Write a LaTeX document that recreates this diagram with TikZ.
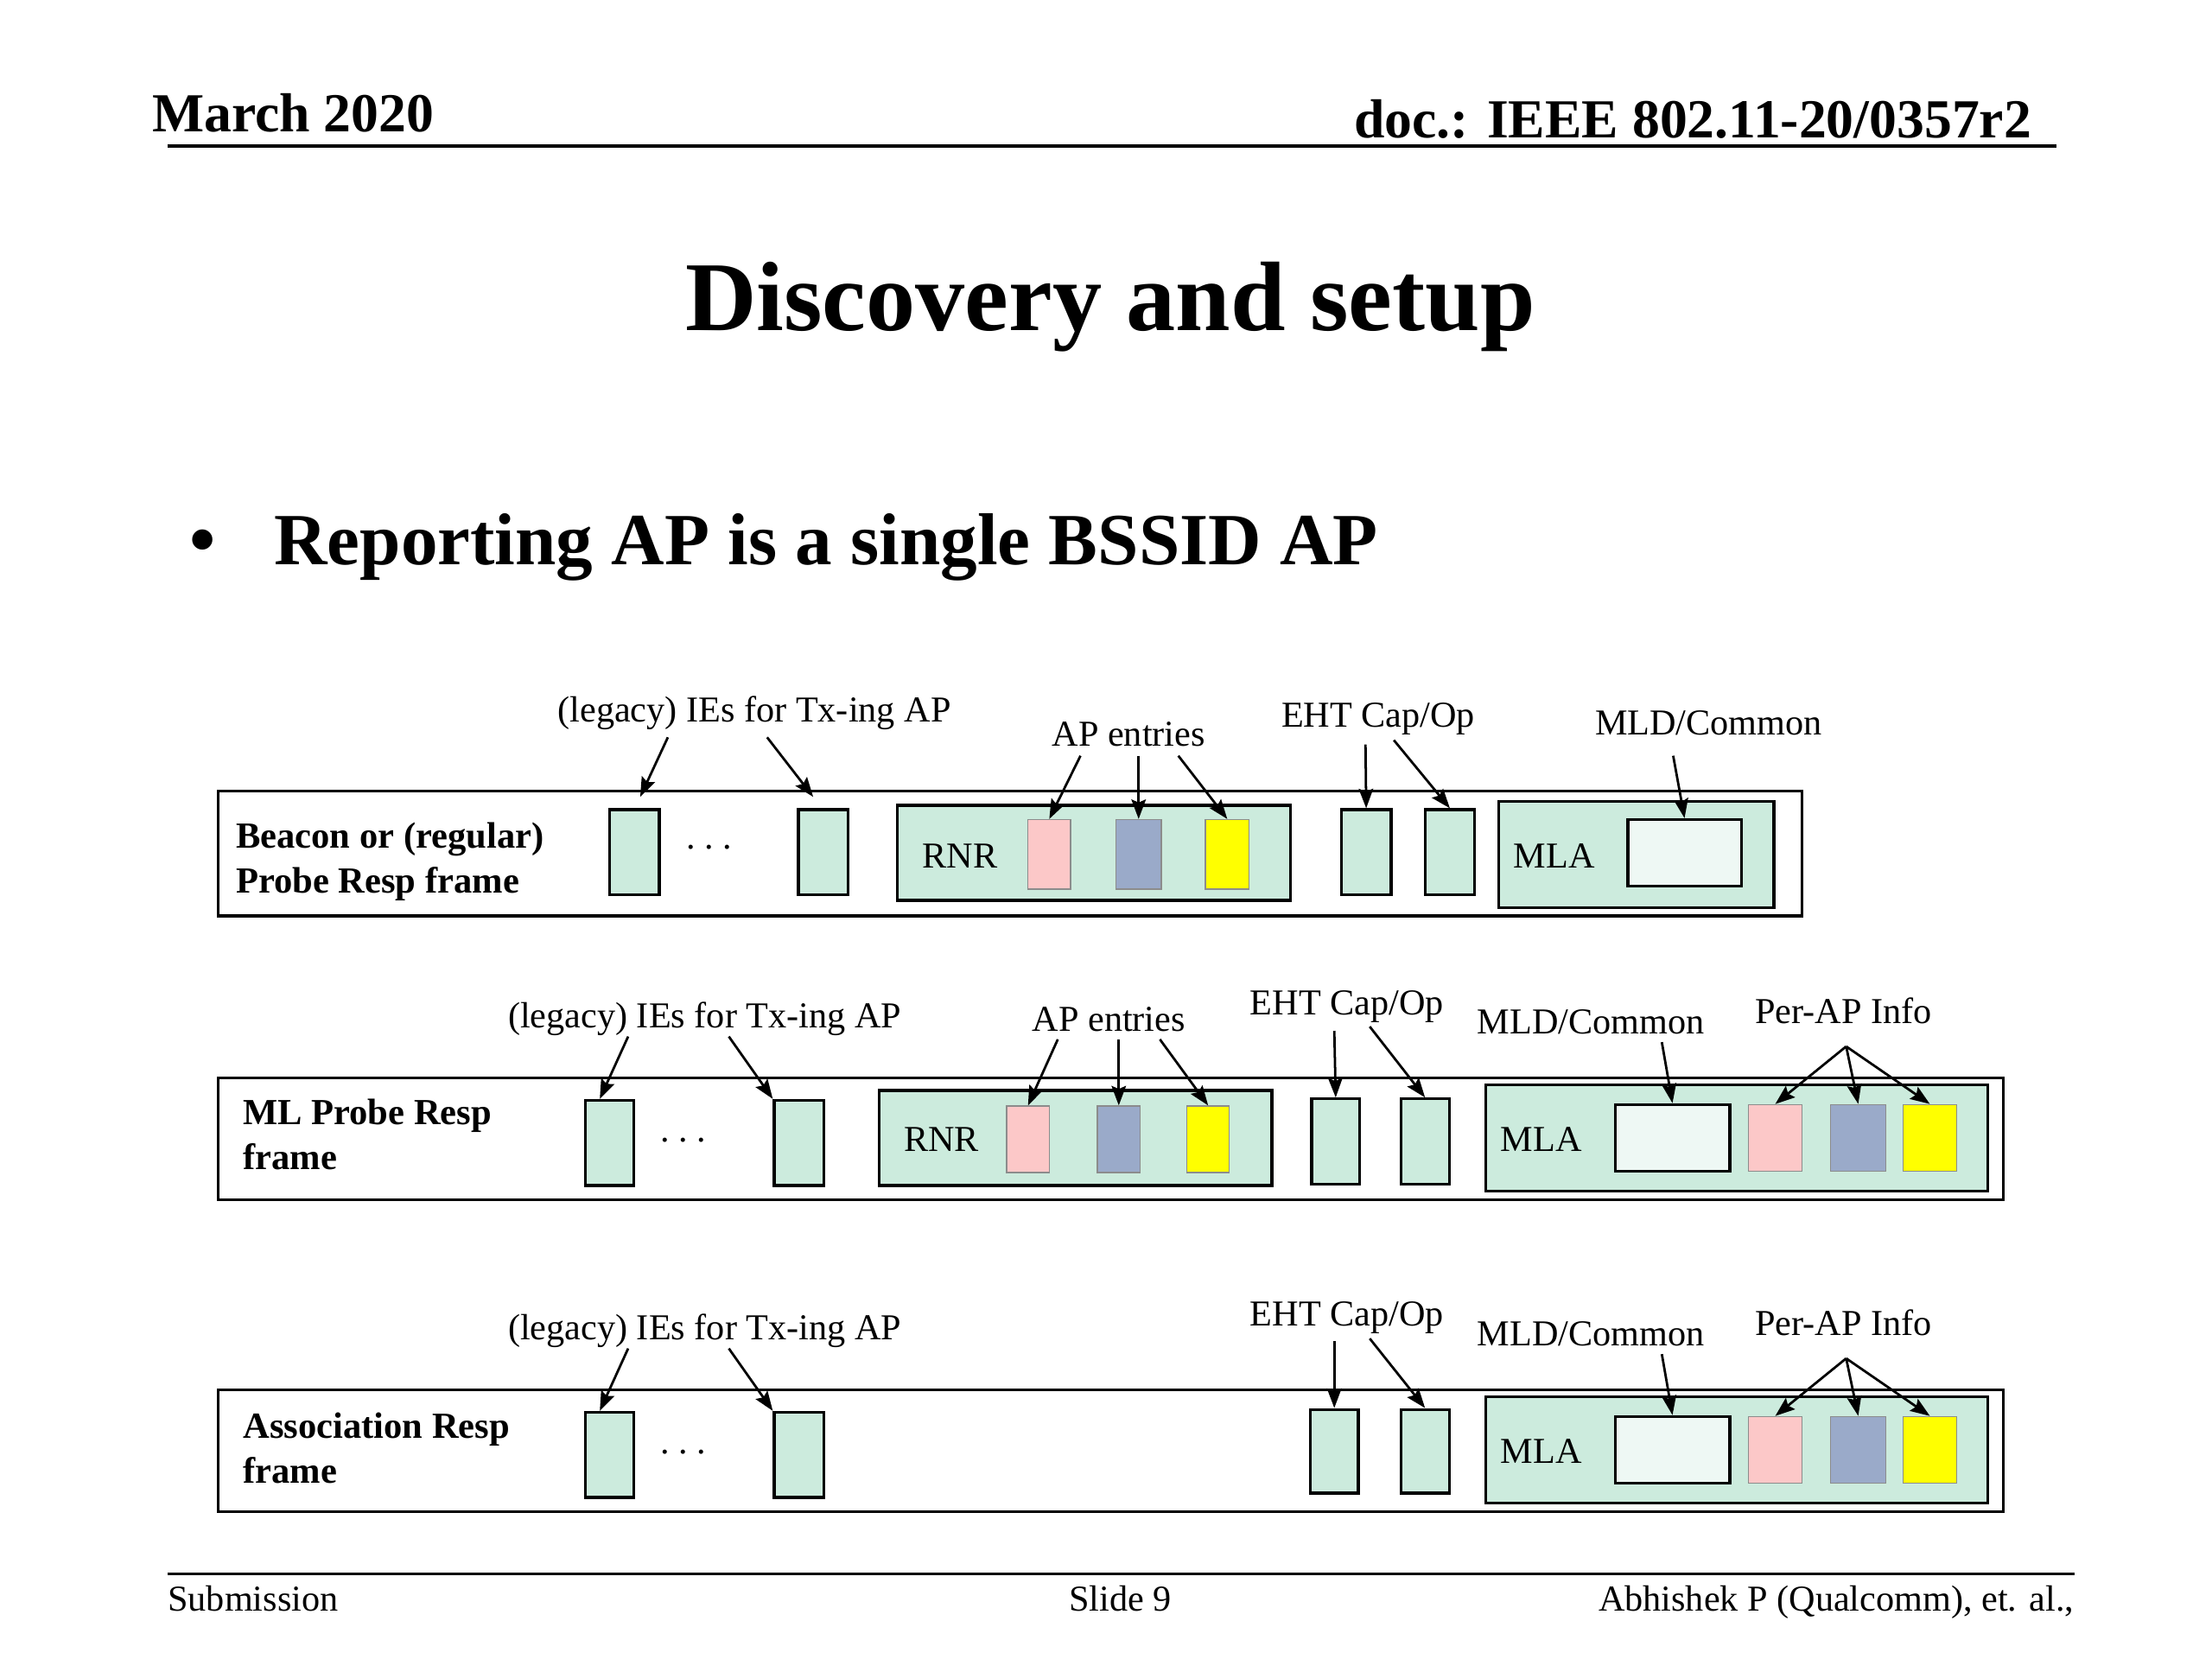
\documentclass[tikz,border=0pt]{standalone}
\usepackage{fontspec}
\setmainfont{Liberation Serif}
\usetikzlibrary{arrows.meta, positioning, calc, fit}
\definecolor{mint}{HTML}{CCEBDD}
\definecolor{pale}{HTML}{EEF8F4}
\definecolor{pinkbox}{HTML}{FCC8C8}
\definecolor{bluebox}{HTML}{9AAAC9}
\definecolor{yellowbox}{HTML}{FFFF00}

\begin{document}
\begin{tikzpicture}[x=0.016667cm, y=-0.016667cm, >={Stealth[length=6.5pt,width=4.8pt,inset=1pt]},
    framebox/.style={draw, line width=0.95pt, inner sep=0pt, fill=white},
    ie/.style={draw, line width=0.95pt, inner sep=0pt, fill=mint},
    entry/.style={draw=black!45, line width=0.4pt, inner sep=0pt},
    txt/.style={inner sep=0pt, font=\fontsize{12.2}{14}\selectfont},
    rowtxt/.style={inner sep=0pt, font=\fontsize{12.3}{14}\selectfont\bfseries, anchor=base west},
    lbl/.style={txt, anchor=base},
    link/.style={->, line width=0.8pt}]
    \path[use as bounding box, fill=white] (0,0) rectangle (1560,1170);

    \node (date) [inner sep=0pt, anchor=base west, font=\fontsize{18.4}{22}\selectfont\bfseries] at (107,93) {March 2020};
    \node (doc) [inner sep=0pt, anchor=base east, font=\fontsize{18.4}{22}\selectfont\bfseries] at (1433,97) {doc.: IEEE 802.11-20/0357r2};
    \coordinate (topl) at (118,103);
    \coordinate (topr) at (1450,103);
    \draw[line width=1pt] (topl) -- (topr);

    \node (title) [inner sep=0pt, anchor=base, font=\fontsize{33}{38}\selectfont\bfseries] at (783,233) {Discovery and setup};
    \node (dot) [inner sep=0pt, anchor=base, font=\fontsize{25}{30}\selectfont\bfseries] at (143,398) {\textbullet};
    \node (point) [inner sep=0pt, anchor=base west, font=\fontsize{24.6}{30}\selectfont\bfseries] at (193,398) {Reporting AP is a single BSSID AP};

    % Beacon / Probe Resp
    \node (f1) [framebox, fit={(154,558) (1271,646)}] {};
    \node (t1a) [rowtxt] at (166,598) {Beacon or (regular)};
    \node (t1b) [rowtxt] at (166,630) {Probe Resp frame};
    \node (r1a) [ie, fit={(430,571) (465,631)}] {};
    \node (r1b) [ie, fit={(563,571) (598,631)}] {};
    \node (d1) [lbl] at (500,599) {.\hspace{3pt}.\hspace{3pt}.};
    \node (rnr1) [ie, fit={(633,568) (910,635)}] {};
    \node (rnr1t) [lbl] at (677,612) {RNR};
    \node (p1) [entry, fill=pinkbox, fit={(725,578) (755,627)}] {};
    \node (b1) [entry, fill=bluebox, fit={(787,578) (819,627)}] {};
    \node (y1) [entry, fill=yellowbox, fit={(850,578) (881,627)}] {};
    \node (e1a) [ie, fit={(946,571) (981,631)}] {};
    \node (e1b) [ie, fit={(1005,571) (1040,631)}] {};
    \node (mla1) [ie, fit={(1057,565) (1251,640)}] {};
    \node (mla1t) [lbl] at (1096,612) {MLA};
    \node (mc1) [ie, fill=pale, fit={(1148,578) (1228,625)}] {};

    \node (leg1) [lbl] at (532,509) {(legacy) IEs for Tx-ing AP};
    \node (ap1) [lbl] at (796,526) {AP entries};
    \node (eht1) [lbl] at (972,513) {EHT Cap/Op};
    \node (mld1) [lbl] at (1205,518) {MLD/Common};

    \draw[link] ($(leg1.base)+(-61,11)$) -- ($(r1a.north)+(4,-8)$);
    \draw[link] ($(leg1.base)+(9,11)$) -- ($(r1b.north)+(-7,-8)$);
    \draw[link] ($(ap1.base)+(-34,7)$) -- (p1.north);
    \draw[link] ($(ap1.base)+(7,7)$) -- (b1.north);
    \draw[link] ($(ap1.base)+(35,7)$) -- (y1.north);
    \draw[link] ($(eht1.base)+(-9,12)$) -- (e1a.north);
    \draw[link] ($(eht1.base)+(11,9)$) -- (e1b.north);
    \draw[link] ($(mld1.base)+(-25,15)$) -- (mc1.north);

    % ML Probe Resp
    \node (f2) [framebox, fit={(154,760) (1413,846)}] {};
    \node (t2a) [rowtxt] at (171,793) {ML Probe Resp};
    \node (t2b) [rowtxt] at (171,825) {frame};
    \node (r2a) [ie, fit={(413,776) (447,836)}] {};
    \node (r2b) [ie, fit={(546,776) (581,836)}] {};
    \node (d2) [lbl] at (482,805) {.\hspace{3pt}.\hspace{3pt}.};
    \node (rnr2) [ie, fit={(620,769) (897,836)}] {};
    \node (rnr2t) [lbl] at (664,812) {RNR};
    \node (p2) [entry, fill=pinkbox, fit={(710,780) (740,827)}] {};
    \node (b2) [entry, fill=bluebox, fit={(774,780) (804,827)}] {};
    \node (y2) [entry, fill=yellowbox, fit={(837,780) (867,827)}] {};
    \node (e2a) [ie, fit={(925,775) (959,835)}] {};
    \node (e2b) [ie, fit={(988,775) (1022,835)}] {};
    \node (mla2) [ie, fit={(1048,765) (1402,840)}] {};
    \node (mla2t) [lbl] at (1087,812) {MLA};
    \node (mc2) [ie, fill=pale, fit={(1139,779) (1220,826)}] {};
    \node (q2p) [entry, fill=pinkbox, fit={(1233,779) (1271,826)}] {};
    \node (q2b) [entry, fill=bluebox, fit={(1291,779) (1330,826)}] {};
    \node (q2y) [entry, fill=yellowbox, fit={(1342,779) (1380,826)}] {};

    \node (leg2) [lbl] at (497,725) {(legacy) IEs for Tx-ing AP};
    \node (ap2) [lbl] at (782,727) {AP entries};
    \node (eht2) [lbl] at (950,716) {EHT Cap/Op};
    \node (mld2) [lbl] at (1122,729) {MLD/Common};
    \node (per2) [lbl] at (1300,722) {Per-AP Info};
    \coordinate (fork2) at ($(per2.base)+(2,16)$);

    \draw[link] ($(leg2.base)+(-54,6)$) -- ($(r2a.north west)+(11,0)$);
    \draw[link] ($(leg2.base)+(17,6)$) -- (r2b.north west);
    \draw[link] ($(ap2.base)+(-36,6)$) -- (p2.north);
    \draw[link] ($(ap2.base)+(7,6)$) -- (b2.north);
    \draw[link] ($(ap2.base)+(36,6)$) -- (y2.north);
    \draw[link] ($(eht2.base)+(-9,11)$) -- (e2a.north);
    \draw[link] ($(eht2.base)+(16,8)$) -- (e2b.north);
    \draw[link] ($(mld2.base)+(50,6)$) -- (mc2.north);
    \draw[link] (fork2) -- (q2p.north);
    \draw[link] (fork2) -- (q2b.north);
    \draw[link] (fork2) -- (q2y.north);

    % Association Resp
    \node (f3) [framebox, fit={(154,980) (1413,1066)}] {};
    \node (t3a) [rowtxt] at (171,1014) {Association Resp};
    \node (t3b) [rowtxt] at (171,1046) {frame};
    \node (r3a) [ie, fit={(413,996) (447,1056)}] {};
    \node (r3b) [ie, fit={(546,996) (581,1056)}] {};
    \node (d3) [lbl] at (482,1025) {.\hspace{3pt}.\hspace{3pt}.};
    \node (e3a) [ie, fit={(924,994) (958,1053)}] {};
    \node (e3b) [ie, fit={(988,994) (1022,1053)}] {};
    \node (mla3) [ie, fit={(1048,985) (1402,1060)}] {};
    \node (mla3t) [lbl] at (1087,1032) {MLA};
    \node (mc3) [ie, fill=pale, fit={(1139,999) (1220,1046)}] {};
    \node (q3p) [entry, fill=pinkbox, fit={(1233,999) (1271,1046)}] {};
    \node (q3b) [entry, fill=bluebox, fit={(1291,999) (1330,1046)}] {};
    \node (q3y) [entry, fill=yellowbox, fit={(1342,999) (1380,1046)}] {};

    \node (leg3) [lbl] at (497,945) {(legacy) IEs for Tx-ing AP};
    \node (eht3) [lbl] at (950,935) {EHT Cap/Op};
    \node (mld3) [lbl] at (1122,949) {MLD/Common};
    \node (per3) [lbl] at (1300,942) {Per-AP Info};
    \coordinate (fork3) at ($(per3.base)+(2,16)$);

    \draw[link] ($(leg3.base)+(-54,6)$) -- ($(r3a.north west)+(11,0)$);
    \draw[link] ($(leg3.base)+(17,6)$) -- (r3b.north west);
    \draw[link] ($(eht3.base)+(-9,11)$) -- (e3a.north);
    \draw[link] ($(eht3.base)+(16,9)$) -- (e3b.north);
    \draw[link] ($(mld3.base)+(50,6)$) -- (mc3.north);
    \draw[link] (fork3) -- (q3p.north);
    \draw[link] (fork3) -- (q3b.north);
    \draw[link] (fork3) -- (q3y.north);

    \coordinate (botl) at (118,1110);
    \coordinate (botr) at (1463,1110);
    \draw[line width=1pt] (botl) -- (botr);
    \node (sub) [txt, anchor=base west] at (118,1136) {Submission};
    \node (slide) [txt, anchor=base] at (790,1136) {Slide 9};
    \node (auth) [txt, anchor=base east] at (1463,1136) {Abhishek P (Qualcomm), et. al.,};
\end{tikzpicture}
\end{document}
